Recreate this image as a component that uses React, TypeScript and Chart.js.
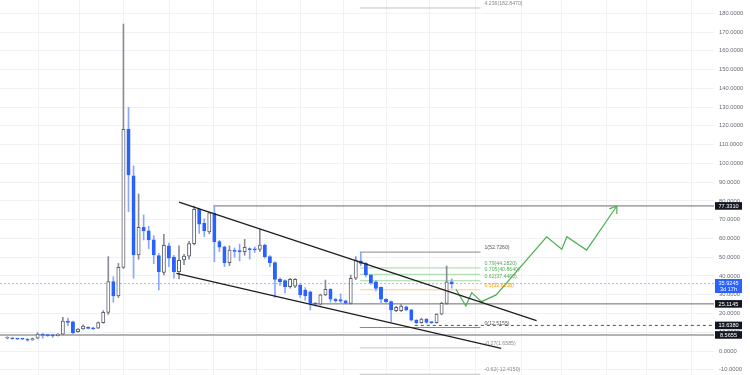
import React, { useEffect, useRef } from "react";
import Chart from "chart.js/auto";

// ---- data ----
const opens = [6.8, 6.8, 6.6, 6.5, 6.4, 5.9, 6.8, 9.0, 8.5, 8.3, 8.2, 9.0, 16.0, 15.5, 10.3, 11.8, 12.6, 12.3, 12.2, 15.1,
  20.6, 37.0, 29.3, 44.6, 118.2, 93.4, 51.2, 65.9, 64.1, 59.2, 50.8, 41.9, 56.0, 50.0, 42.3, 48.5, 50.6, 57.2, 75.5, 68.0,
  63.5, 73.5, 58.3, 55.5, 47.1, 53.5, 53.3, 52.9, 54.4, 54.2, 54.2, 56.5, 50.3, 47.1, 38.2, 37.5, 34.3, 34.6, 35.2, 32.5,
  31.6, 25.4, 25.0, 29.9, 32.9, 27.6, 27.4, 26.8, 25.4, 38.8, 48.1, 46.7, 40.5, 36.9, 33.9, 27.6, 26.3, 21.5, 21.5, 23.6,
  21.9, 16.5, 15.1, 17.0, 15.3, 15.1, 19.7, 25.4, 36.9];
const highs = [7.6, 7.0, 6.8, 6.7, 6.6, 6.9, 9.8, 9.3, 8.8, 9.0, 9.3, 18.0, 17.5, 16.0, 12.0, 14.0, 13.0, 12.6, 15.5, 21.5,
  50.3, 39.6, 46.7, 174.3, 129.9, 98.7, 83.7, 72.5, 66.5, 61.5, 52.0, 62.2, 57.5, 51.0, 56.0, 51.5, 58.5, 77.3, 76.0, 70.5,
  74.0, 77.3, 59.0, 56.0, 56.0, 55.0, 57.0, 59.5, 55.0, 55.5, 64.9, 57.0, 50.8, 47.5, 39.0, 38.0, 38.8, 38.6, 36.0, 33.8,
  32.0, 26.0, 30.3, 37.8, 33.2, 28.0, 30.5, 27.2, 40.5, 50.3, 52.7, 47.2, 41.0, 37.5, 34.2, 28.0, 26.7, 23.8, 25.0, 24.0,
  22.2, 16.8, 17.5, 17.3, 15.6, 20.0, 26.0, 45.3, 38.5];
const lows = [6.5, 6.3, 6.2, 6.0, 5.2, 5.7, 6.5, 6.8, 7.8, 7.2, 8.0, 8.6, 13.5, 9.2, 10.1, 11.5, 11.8, 11.5, 12.0, 14.8,
  19.5, 26.0, 28.5, 44.0, 74.3, 38.8, 48.9, 59.2, 54.5, 46.5, 32.5, 40.5, 45.0, 38.8, 38.4, 46.0, 49.0, 56.5, 62.7, 61.0,
  62.5, 47.6, 53.0, 45.0, 45.5, 50.0, 48.0, 51.0, 49.0, 52.5, 53.0, 49.5, 45.0, 28.6, 35.0, 31.0, 33.5, 33.8, 28.5, 27.0,
  21.9, 24.0, 24.5, 29.5, 26.0, 26.0, 25.5, 25.0, 25.0, 38.0, 45.5, 39.5, 35.5, 32.0, 25.4, 25.5, 15.6, 21.0, 21.0, 21.5,
  16.0, 14.5, 14.8, 14.8, 14.6, 14.8, 19.3, 24.8, 33.5];
const closes = [7.1, 6.5, 6.3, 6.3, 5.8, 6.6, 9.0, 8.3, 8.2, 8.1, 9.0, 16.0, 15.2, 9.8, 11.7, 13.3, 12.1, 11.8, 15.1, 20.6,
  37.0, 29.3, 44.6, 118.2, 93.8, 51.2, 65.9, 64.1, 59.2, 51.2, 42.3, 56.3, 49.5, 42.3, 48.3, 50.6, 57.2, 75.5, 67.6, 64.0,
  73.7, 58.3, 55.3, 47.1, 53.8, 53.1, 53.0, 55.2, 54.0, 53.9, 56.5, 50.3, 47.1, 38.2, 36.9, 34.3, 38.2, 38.2, 29.9, 29.3,
  25.4, 25.0, 29.9, 32.9, 27.6, 26.8, 26.6, 25.3, 38.8, 48.5, 46.7, 40.5, 36.4, 33.4, 27.6, 26.3, 21.9, 23.3, 24.0, 21.9,
  16.5, 15.1, 17.0, 15.2, 15.1, 19.7, 25.4, 36.9, 35.9245];

const yTicks = [-10, 0, 10, 20, 30, 40, 50, 60, 70, 80, 90, 100, 110, 120, 130, 140, 150, 160, 170, 180];
const gridIdx = [6.1, 14.2, 23.0, 32.2, 40.8, 49.4, 58.0, 66.5, 75.1, 83.7, 92.8, 101.9, 109.8, 118.7, 126.6, 135.5];

const X_MIN = -1.445;
const X_MAX = 139.94;
const Y_MIN = -12.79;
const Y_MAX = 187.1;

const upperChannel = [{ x: 34.0, y: 79.3 }, { x: 104.8, y: 16.2 }];
const lowerChannel = [{ x: 33.5, y: 41.4 }, { x: 97.8, y: 1.4 }];
const projection = [
  { x: 88.85, y: 32.9 }, { x: 90.8, y: 24.0 }, { x: 91.96, y: 31.1 }, { x: 93.9, y: 26.3 }, { x: 96.8, y: 29.9 },
  { x: 106.8, y: 60.9 }, { x: 109.8, y: 54.2 }, { x: 110.8, y: 60.9 }, { x: 114.7, y: 53.8 }, { x: 120.7, y: 77.3 },
];

const fibValues = [182.847, 52.726, 44.282, 40.864, 37.446, 32.6208, 12.5155, 1.6585, -12.415];
const fibLabels = ["4.236(182.8470)", "1(52.7260)", "0.79(44.2820)", "0.705(40.8640)", "0.62(37.4460)",
  "0.5(32.6208)", "0(12.5155)", "-0.27(1.6585)", "-0.62(-12.4150)"];
const fibLineColors = ["#c4c4c4", "#8a8a8a", "#a5d6a7", "#a5d6a7", "#a5d6a7", "#ffcc80", "#8a8a8a", "#c4c4c4", "#c4c4c4"];
const fibTextColors = ["#8a8a8a", "#555555", "#4caf50", "#4caf50", "#4caf50", "#ff9800", "#555555", "#8a8a8a", "#8a8a8a"];
const FIB_START = 69.8;
const FIB_END = 93.7;

const levelValues = [77.331, 25.1145, 13.638, 8.5655];
const levelLabels = ["77.3310", "25.1145", "13.6380", "8.5655"];
const levelStarts = [40.8, 60.0, 80.7, X_MIN];
const levelColors = ["#6b6b6b", "#6b6b6b", "#555555", "#9a9a9a"];
const levelWidths = [1, 1, 1, 1.6];
const levelDash = [[], [], [3, 3], []];

const lastPrice = 35.9245;
const lastPriceLabel = "35.9245";
const countdownLabel = "3d 17h";

const UP_BORDER = "#5d606b";
const UP_WICK = "#8a8d96";
const DOWN_FILL = "#2962ff";
const DOWN_WICK = "#8aa6ff";

export default function App() {
  const canvasRef = useRef<HTMLCanvasElement | null>(null);

  useEffect(() => {
    if (!canvasRef.current) return;
    const idx = closes.map((_, i) => i);
    const isUp = idx.map((i) => closes[i] >= opens[i]);

    const levelDatasets = levelValues.map((v, k) => ({
      type: "line" as const,
      data: [{ x: levelStarts[k], y: v }, { x: X_MAX, y: v }],
      borderColor: levelColors[k],
      borderWidth: levelWidths[k],
      borderDash: levelDash[k],
      pointRadius: 0,
      fill: false,
      order: 5,
    }));

    const fibDatasets = fibValues.map((v, k) => ({
      type: "line" as const,
      data: [{ x: FIB_START, y: v }, { x: FIB_END, y: v }],
      borderColor: fibLineColors[k],
      borderWidth: 1,
      pointRadius: 0,
      fill: false,
      order: 5,
    }));

    const overlay = {
      id: "overlay",
      afterDraw(chart: any) {
        const ctx = chart.ctx as CanvasRenderingContext2D;
        const xs = chart.scales.x;
        const ys = chart.scales.y;
        const area = chart.chartArea;
        ctx.save();
        ctx.font = "5.2px 'Liberation Sans', Arial, sans-serif";
        ctx.textAlign = "left";
        ctx.textBaseline = "bottom";
        const lx = xs.getPixelForValue(FIB_END) + 4;
        fibValues.forEach((v, k) => {
          ctx.fillStyle = fibTextColors[k];
          ctx.fillText(fibLabels[k], lx, ys.getPixelForValue(v) - 1.8);
        });
        const n = projection.length;
        const tx = xs.getPixelForValue(projection[n - 1].x);
        const ty = ys.getPixelForValue(projection[n - 1].y);
        const px = xs.getPixelForValue(projection[n - 2].x);
        const py = ys.getPixelForValue(projection[n - 2].y);
        const ang = Math.atan2(ty - py, tx - px);
        ctx.strokeStyle = "#4caf50";
        ctx.lineWidth = 1.2;
        ctx.beginPath();
        [0.6, -0.6].forEach((d) => {
          ctx.moveTo(tx, ty);
          ctx.lineTo(tx - 8 * Math.cos(ang + d), ty - 8 * Math.sin(ang + d));
        });
        ctx.stroke();
        const bx = area.right + 1;
        const bw = 27;
        ctx.textAlign = "center";
        ctx.textBaseline = "middle";
        ctx.font = "5.6px 'Liberation Sans', Arial, sans-serif";
        levelValues.forEach((v, k) => {
          const y = ys.getPixelForValue(v);
          ctx.fillStyle = "#131722";
          ctx.fillRect(bx, y - 3.8, bw, 7.6);
          ctx.fillStyle = "#ffffff";
          ctx.fillText(levelLabels[k], bx + bw / 2, y + 0.3);
        });
        const yp = ys.getPixelForValue(lastPrice);
        ctx.fillStyle = DOWN_FILL;
        ctx.fillRect(bx, yp - 4.6, bw, 14);
        ctx.fillStyle = "#ffffff";
        ctx.fillText(lastPriceLabel, bx + bw / 2, yp + 0.2);
        ctx.fillText(countdownLabel, bx + bw / 2, yp + 6.2);
        ctx.restore();
      },
    };

    const chart = new Chart(canvasRef.current, {
      type: "bar",
      data: {
        datasets: [
          { type: "line", data: upperChannel, borderColor: "#1e1e1e", borderWidth: 1.3, pointRadius: 0, fill: false, order: -2 },
          { type: "line", data: lowerChannel, borderColor: "#1e1e1e", borderWidth: 1.3, pointRadius: 0, fill: false, order: -2 },
          { type: "line", data: projection, borderColor: "#4caf50", borderWidth: 1.2, pointRadius: 0, fill: false, order: -2 },
          {
            type: "bar",
            data: idx.map((i) => ({ x: i, y: [opens[i], closes[i]] })) as any,
            backgroundColor: isUp.map((u) => (u ? "#ffffff" : DOWN_FILL)),
            borderColor: isUp.map((u) => (u ? UP_BORDER : DOWN_FILL)),
            borderWidth: 1,
            borderSkipped: false,
            barThickness: 3.3,
            minBarLength: 1,
            grouped: false,
            order: 0,
          } as any,
          {
            type: "bar",
            data: idx.map((i) => ({ x: i, y: [lows[i], highs[i]] })) as any,
            backgroundColor: isUp.map((u) => (u ? UP_WICK : DOWN_WICK)),
            borderWidth: 0,
            barThickness: 1,
            grouped: false,
            order: 1,
          } as any,
          {
            type: "line",
            data: [{ x: X_MIN, y: lastPrice }, { x: X_MAX, y: lastPrice }],
            borderColor: "rgba(41,98,255,0.45)",
            borderWidth: 1,
            borderDash: [2, 2],
            pointRadius: 0,
            fill: false,
            order: 4,
          },
          ...levelDatasets,
          ...fibDatasets,
        ] as any,
      },
      options: {
        responsive: true,
        maintainAspectRatio: false,
        animation: false,
        devicePixelRatio: 1,
        layout: { padding: 0 },
        events: [],
        plugins: { legend: { display: false }, tooltip: { enabled: false } },
        scales: {
          x: {
            type: "linear",
            min: X_MIN,
            max: X_MAX,
            offset: false,
            ticks: { display: false },
            grid: { color: "#eff1f5", drawTicks: false, offset: false },
            border: { display: false },
            afterBuildTicks: (s: any) => {
              s.ticks = gridIdx.map((v) => ({ value: v }));
            },
            afterFit: (s: any) => {
              s.height = 0;
              s.paddingLeft = 0;
              s.paddingRight = 0;
            },
          },
          y: {
            type: "linear",
            position: "right",
            min: Y_MIN,
            max: Y_MAX,
            ticks: {
              callback: (v: any) => Number(v).toFixed(4),
              font: { size: 5.8, family: "'Liberation Sans', Arial, sans-serif" },
              color: "#666a73",
              padding: 5,
              autoSkip: false,
            },
            grid: { color: "#eff1f5", drawTicks: false },
            border: { display: false },
            afterBuildTicks: (s: any) => {
              s.ticks = yTicks.map((v) => ({ value: v }));
            },
            afterFit: (s: any) => {
              s.width = 36;
              s.paddingTop = 0;
              s.paddingBottom = 0;
            },
          },
        },
      } as any,
      plugins: [overlay],
    });
    return () => chart.destroy();
  }, []);

  return (
    <div style={{ position: "fixed", left: 0, top: 0, width: 750, height: 375, background: "#ffffff" }}>
      <canvas ref={canvasRef} />
    </div>
  );
}
